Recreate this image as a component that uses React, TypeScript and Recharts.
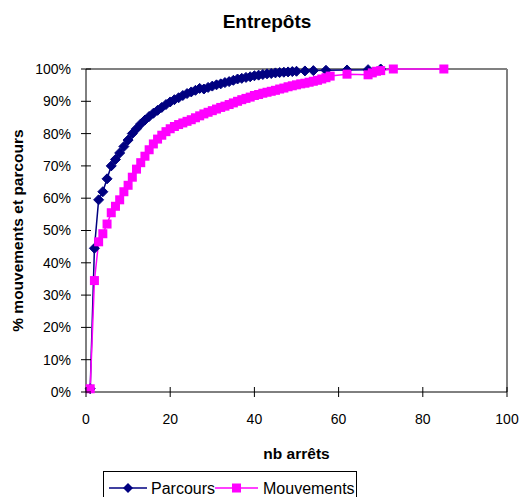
import React from 'react';
import {
  LineChart,
  Line,
  XAxis,
  YAxis,
  ReferenceLine,
  Legend,
  Customized,
} from 'recharts';

const FONT = '"Liberation Sans", Arial, sans-serif';

const parcoursArrets = [
  1, 2, 3, 4, 5, 6, 7, 8, 9, 10, 11, 12, 13, 14, 15, 16, 17, 18, 19, 20,
  21, 22, 23, 24, 25, 26, 27, 28, 29, 30, 31, 32, 33, 34, 35, 36, 37, 38, 39, 40,
  41, 42, 43, 44, 45, 46, 47, 48, 49, 50, 52, 54, 57, 62, 67, 70,
];
const parcoursPct = [
  1, 44.5, 59.5, 62, 66, 70, 72, 74, 76, 78, 80, 81.5, 83, 84.2, 85.3, 86.3, 87.2, 88.1, 89, 89.8,
  90.5, 91.1, 91.8, 92.4, 92.9, 93.4, 94, 93.8, 94.3, 94.7, 95.1, 95.4, 95.8, 96.1, 96.5, 96.9, 97.1, 97.4, 97.6, 97.9,
  98.1, 98.3, 98.5, 98.6, 98.8, 98.9, 99, 99.1, 99.2, 99.3, 99.4, 99.5, 99.6, 99.7, 99.8, 100,
];

const mouvementsArrets = [
  1, 2, 3, 4, 5, 6, 7, 8, 9, 10, 11, 12, 13, 14, 15, 16, 17, 18, 19, 20,
  21, 22, 23, 24, 25, 26, 27, 28, 29, 30, 31, 32, 33, 34, 35, 36, 37, 38, 39, 40,
  41, 42, 43, 44, 45, 46, 47, 48, 49, 50, 51, 52, 53, 54, 55, 56, 57, 58,
  62, 67, 68, 69, 70, 73, 85,
];
const mouvementsPct = [
  1, 34.5, 46.5, 49, 52, 55.5, 57.5, 59.5, 62, 64, 66.5, 69, 71, 73, 75, 76.8, 78.3, 79.5, 80.6, 81.5,
  82.2, 82.8, 83.3, 83.8, 84.3, 84.9, 85.5, 86.1, 86.6, 87.1, 87.6, 88.1, 88.5, 89, 89.5, 90, 90.5, 90.9, 91.3, 91.8,
  92.1, 92.5, 92.8, 93.1, 93.4, 93.8, 94.1, 94.5, 94.8, 95.1, 95.4, 95.6, 95.9, 96.2, 96.5, 96.9, 97.3, 97.8,
  98.4, 98.2, 98.8, 99.3, 99.5, 100, 100,
];

const xTicks = [0, 20, 40, 60, 80, 100];
const yTicks = [0, 10, 20, 30, 40, 50, 60, 70, 80, 90, 100];

const parcoursData = parcoursArrets.map((x, i) => ({ arrets: x, parcours: parcoursPct[i] }));
const mouvementsData = mouvementsArrets.map((x, i) => ({ arrets: x, mouvements: mouvementsPct[i] }));

const NAVY = '#000080';
const MAGENTA = '#FF00FF';

function DiamondDot(props: any) {
  const { cx, cy, index } = props;
  if (cx == null || cy == null) return <g key={`d-${index}`} />;
  const r = 5;
  return (
    <polygon
      key={`d-${index}`}
      points={`${cx},${cy - r} ${cx + r},${cy} ${cx},${cy + r} ${cx - r},${cy}`}
      fill={NAVY}
      stroke={NAVY}
    />
  );
}

function SquareDot(props: any) {
  const { cx, cy, index } = props;
  if (cx == null || cy == null) return <g key={`s-${index}`} />;
  return <rect key={`s-${index}`} x={cx - 4.5} y={cy - 4.5} width={9} height={9} fill={MAGENTA} />;
}

function YTick(props: any) {
  const { x, y, payload } = props;
  return (
    <g>
      <line x1={x + 10} x2={x + 20} y1={y} y2={y} stroke="#000" />
      <text x={x} y={y} dy="0.355em" textAnchor="end" fontSize={14} fontFamily={FONT} fill="#000">
        {payload.value}%
      </text>
    </g>
  );
}

function XTick(props: any) {
  const { x, y, payload } = props;
  return (
    <g>
      <line x1={x} x2={x} y1={y - 28} y2={y - 18} stroke="#000" />
      <text x={x} y={y} dy={9} textAnchor="middle" fontSize={14} fontFamily={FONT} fill="#000">
        {payload.value}
      </text>
    </g>
  );
}

function renderLegend(props: any) {
  const { payload = [] } = props;
  return (
    <div
      style={{
        position: 'relative',
        width: 254,
        height: 40,
        border: '1px solid #000',
        boxSizing: 'border-box',
        background: '#fff',
        fontFamily: FONT,
        fontSize: 16,
        color: '#000',
      }}
    >
      {payload.map((entry: any, i: number) => {
        const isParcours = entry.dataKey === 'parcours';
        const iconLeft = isParcours ? 5 : 111;
        const iconW = isParcours ? 38 : 43;
        const textLeft = isParcours ? 47 : 159;
        return (
          <React.Fragment key={i}>
            <svg
              width={iconW}
              height={12}
              style={{ position: 'absolute', left: iconLeft, top: 10 }}
            >
              <line x1={0} x2={iconW} y1={6} y2={6} stroke={entry.color} strokeWidth={1.5} />
              {isParcours ? (
                <polygon points={`${iconW / 2},1 ${iconW / 2 + 5},6 ${iconW / 2},11 ${iconW / 2 - 5},6`} fill={NAVY} />
              ) : (
                <rect x={iconW / 2 - 4.5} y={1.5} width={9} height={9} fill={MAGENTA} />
              )}
            </svg>
            <span
              style={{ position: 'absolute', left: textLeft, top: 9, lineHeight: '16px', whiteSpace: 'nowrap' }}
            >
              {entry.value}
            </span>
          </React.Fragment>
        );
      })}
    </div>
  );
}

export default function App() {
  return (
    <div style={{ position: 'absolute', left: 0, top: 0, width: 522, height: 497, background: '#fff' }}>
      <LineChart width={522} height={497} margin={{ top: 69, right: 15, left: 6, bottom: 65 }}>
        <XAxis
          dataKey="arrets"
          type="number"
          domain={[0, 100]}
          ticks={xTicks}
          interval={0}
          height={40}
          tickSize={5}
          tickMargin={18}
          tickLine={false}
          axisLine={{ stroke: '#000', strokeWidth: 1 }}
          tick={<XTick />}
          label={{
            content: (p: any) => {
              const vb = p.viewBox;
              return (
                <text
                  x={vb.x + vb.width / 2}
                  y={459}
                  textAnchor="middle"
                  fontSize={15.5}
                  fontWeight="bold"
                  fontFamily={FONT}
                  fill="#000"
                >
                  nb arrêts
                </text>
              );
            },
          }}
        />
        <YAxis
          type="number"
          domain={[0, 100]}
          ticks={yTicks}
          interval={0}
          width={80}
          tickSize={5}
          tickMargin={10}
          tickLine={false}
          axisLine={{ stroke: '#000', strokeWidth: 1 }}
          tick={<YTick />}
          label={{
            content: (p: any) => {
              const vb = p.viewBox;
              const cx = 18;
              const cy = vb.y + vb.height / 2;
              return (
                <text
                  x={cx}
                  y={cy}
                  dy="0.35em"
                  transform={`rotate(-90, ${cx}, ${cy})`}
                  textAnchor="middle"
                  fontSize={15.5}
                  fontWeight="bold"
                  fontFamily={FONT}
                  fill="#000"
                >
                  % mouvements et parcours
                </text>
              );
            },
          }}
        />
        <ReferenceLine y={100} stroke="#808080" strokeWidth={2} />
        <ReferenceLine x={100} stroke="#808080" strokeWidth={2} />
        <Customized
          component={() => (
            <text
              x={267}
              y={28}
              textAnchor="middle"
              fontSize={19}
              fontWeight="bold"
              fontFamily={FONT}
              fill="#000"
            >
              Entrepôts
            </text>
          )}
        />
        <Legend
          layout="horizontal"
          verticalAlign="middle"
          align="center"
          wrapperStyle={{ position: 'absolute', left: 103, top: 471, width: 254, height: 40 }}
          content={renderLegend}
        />
        <Line
          name="Parcours"
          data={parcoursData}
          dataKey="parcours"
          type="linear"
          stroke={NAVY}
          strokeWidth={1.5}
          dot={DiamondDot}
          activeDot={false}
          isAnimationActive={false}
        />
        <Line
          name="Mouvements"
          data={mouvementsData}
          dataKey="mouvements"
          type="linear"
          stroke={MAGENTA}
          strokeWidth={1.5}
          dot={SquareDot}
          activeDot={false}
          isAnimationActive={false}
        />
      </LineChart>
    </div>
  );
}
